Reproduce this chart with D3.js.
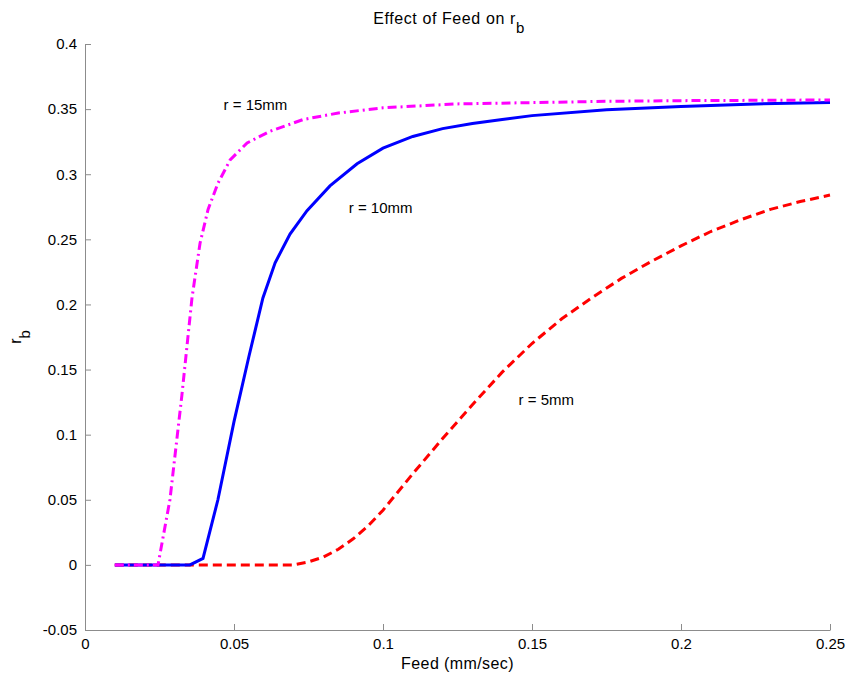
<!DOCTYPE html>
<html>
<head>
<meta charset="utf-8">
<script src="https://cdn.jsdelivr.net/npm/d3@7"></script>
<style>
  body { margin: 0; background: #fff; }
  svg text { font-family: "Liberation Sans", Arial, sans-serif; fill: #000; }
</style>
</head>
<body>
<svg id="chart" width="849" height="682"></svg>
<script>
// Feed (mm/sec) vs r_b for three radii
const feed5  = [0.01, 0.07, 0.0745, 0.08, 0.085, 0.09, 0.095, 0.1, 0.11, 0.12, 0.13, 0.14, 0.15, 0.16, 0.17, 0.18, 0.19, 0.2, 0.21, 0.22, 0.23, 0.24, 0.25];
const rb5    = [0, 0, 0.002, 0.006, 0.012, 0.02, 0.03, 0.042, 0.07, 0.097, 0.123, 0.148, 0.17, 0.189, 0.205, 0.22, 0.233, 0.245, 0.256, 0.265, 0.273, 0.279, 0.284];

const feed10 = [0.01, 0.0352, 0.0396, 0.0446, 0.05, 0.055, 0.0597, 0.0638, 0.0688, 0.0745, 0.0822, 0.0913, 0.1, 0.11, 0.12, 0.13, 0.14, 0.15, 0.175, 0.2, 0.225, 0.25];
const rb10   = [0, 0, 0.005, 0.05, 0.11, 0.16, 0.205, 0.232, 0.254, 0.272, 0.291, 0.308, 0.32, 0.329, 0.335, 0.339, 0.342, 0.345, 0.3495, 0.352, 0.354, 0.355];

const feed15 = [0.01, 0.0245, 0.0285, 0.0325, 0.0359, 0.0386, 0.0413, 0.0446, 0.0487, 0.0544, 0.0621, 0.0732, 0.085, 0.1, 0.125, 0.15, 0.175, 0.2, 0.25];
const rb15   = [0, 0, 0.05, 0.13, 0.205, 0.247, 0.273, 0.293, 0.311, 0.324, 0.333, 0.342, 0.347, 0.351, 0.354, 0.355, 0.356, 0.3565, 0.357];

const xTicks = [0, 0.05, 0.1, 0.15, 0.2, 0.25];
const yTicks = [-0.05, 0, 0.05, 0.1, 0.15, 0.2, 0.25, 0.3, 0.35, 0.4];

const series = [
  { x: feed5,  y: rb5,  color: "#ff0000", dash: "9,5",     label: "r = 5mm",  lx: 0.1455, ly: 0.127 },
  { x: feed10, y: rb10, color: "#0000ff", dash: null,      label: "r = 10mm", lx: 0.0885, ly: 0.2745 },
  { x: feed15, y: rb15, color: "#ff00ff", dash: "9,4,2,4", label: "r = 15mm", lx: 0.0465, ly: 0.3535 }
];

const svg = d3.select("#chart");
const margin = { left: 85, right: 19, top: 44, bottom: 52 };
const width = 849, height = 682;

const x = d3.scaleLinear().domain([0, 0.25]).range([margin.left, width - margin.right]);
const y = d3.scaleLinear().domain([-0.05, 0.4]).range([height - margin.bottom, margin.top]);

// plain ascii labels like "-0.05", "0.1"
const fmt = d => String(+d.toFixed(2));

// axes: MATLAB style, ticks pointing inward
const xAxis = svg.append("g")
  .attr("transform", `translate(0,${height - margin.bottom})`)
  .call(d3.axisBottom(x).tickValues(xTicks).tickSize(-6).tickSizeOuter(0).tickPadding(8).tickFormat(fmt));

const yAxis = svg.append("g")
  .attr("transform", `translate(${margin.left},0)`)
  .call(d3.axisLeft(y).tickValues(yTicks).tickSize(-6).tickSizeOuter(0).tickPadding(8).tickFormat(fmt));

[xAxis, yAxis].forEach(g => {
  g.select(".domain").attr("stroke", "#8c8c8c");
  g.selectAll(".tick line").attr("stroke", "#8c8c8c");
  g.selectAll(".tick text").attr("font-size", 15).attr("fill", "#000")
    .style("font-family", "'Liberation Sans', Arial, sans-serif");
});

// lines
const line = d3.line().x(d => x(d[0])).y(d => y(d[1]));
series.forEach(s => {
  svg.append("path")
    .datum(s.x.map((v, i) => [v, s.y[i]]))
    .attr("fill", "none")
    .attr("stroke", s.color)
    .attr("stroke-width", 3)
    .attr("stroke-dasharray", s.dash)
    .attr("d", line);
});

// curve labels
series.forEach(s => {
  svg.append("text")
    .attr("x", x(s.lx)).attr("y", y(s.ly))
    .attr("dy", "0.35em")
    .attr("font-size", 15)
    .text(s.label);
});

// title with subscript
const title = svg.append("text")
  .attr("x", 449)
  .attr("y", 24)
  .attr("text-anchor", "middle")
  .attr("font-size", 16)
  .attr("letter-spacing", 0.6);
title.append("tspan").text("Effect of Feed on r");
title.append("tspan").attr("baseline-shift", "sub").attr("font-size", 15).text("b");

// axis labels
svg.append("text")
  .attr("x", (margin.left + width - margin.right) / 2)
  .attr("y", 669)
  .attr("text-anchor", "middle")
  .attr("font-size", 16)
  .attr("letter-spacing", 0.4)
  .text("Feed (mm/sec)");

const yl = svg.append("text")
  .attr("transform", `translate(21,${y(0.175)}) rotate(-90)`)
  .attr("text-anchor", "middle")
  .attr("font-size", 16);
yl.append("tspan").text("r");
yl.append("tspan").attr("baseline-shift", "sub").attr("font-size", 15).text("b");
</script>
</body>
</html>
